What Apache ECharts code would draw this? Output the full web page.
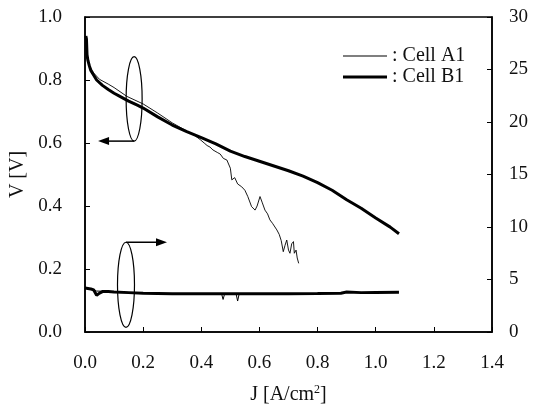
<!DOCTYPE html>
<html><head><meta charset="utf-8">
<script src="https://cdn.jsdelivr.net/npm/echarts@6/dist/echarts.min.js"></script>
<style>html,body{margin:0;padding:0;background:#fff}#c{width:534px;height:408px}</style>
</head><body><div id="c"></div>
<script>
// ---- data ----
const xTicks = [0, 0.2, 0.4, 0.6, 0.8, 1.0, 1.2, 1.4];
const vTicks = [0, 0.2, 0.4, 0.6, 0.8, 1.0];
const rTicks = [0, 5, 10, 15, 20, 25, 30];

const jB1 = [0.003,0.005,0.007,0.010,0.015,0.02,0.03,0.04,0.06,0.08,0.10,0.12,0.15,0.18,0.20,0.25,0.30,0.35,0.40,0.45,0.50,0.55,0.60,0.65,0.70,0.75,0.80,0.85,0.90,0.95,1.00,1.05,1.08];
const vB1 = [0.94,0.93,0.88,0.862,0.845,0.83,0.815,0.80,0.783,0.770,0.758,0.748,0.733,0.72,0.711,0.683,0.657,0.636,0.617,0.597,0.574,0.557,0.542,0.527,0.512,0.495,0.474,0.450,0.420,0.393,0.362,0.333,0.312];

const jA1 = [0.003,0.005,0.007,0.010,0.015,0.02,0.03,0.05,0.08,0.10,0.144,0.20,0.25,0.30,0.35,0.38,0.396,0.41,0.42,0.43,0.44,0.455,0.465,0.476,0.488,0.50,0.505,0.515,0.525,0.539,0.55,0.56,0.573,0.585,0.592,0.602,0.61,0.619,0.628,0.636,0.645,0.66,0.668,0.675,0.682,0.688,0.694,0.70,0.705,0.711,0.717,0.72,0.726,0.73,0.735];
const vA1 = [0.94,0.92,0.885,0.865,0.85,0.838,0.822,0.802,0.787,0.776,0.748,0.724,0.695,0.664,0.638,0.622,0.611,0.600,0.592,0.587,0.578,0.570,0.565,0.551,0.546,0.520,0.483,0.490,0.470,0.461,0.450,0.430,0.398,0.387,0.400,0.430,0.410,0.387,0.375,0.356,0.345,0.324,0.310,0.290,0.255,0.275,0.292,0.260,0.250,0.280,0.287,0.250,0.260,0.235,0.218];

const jB1r = [0,0.01,0.02,0.03,0.04,0.045,0.05,0.06,0.08,0.10,0.15,0.20,0.30,0.40,0.50,0.60,0.70,0.80,0.88,0.90,0.95,1.00,1.08];
const rB1 = [4.2,4.15,4.1,4.0,3.5,3.4,3.7,3.85,3.85,3.82,3.75,3.68,3.65,3.65,3.65,3.65,3.65,3.66,3.7,3.8,3.75,3.77,3.78];

const jA1r = [0,0.02,0.04,0.10,0.20,0.30,0.40,0.47,0.475,0.48,0.52,0.525,0.53,0.60,0.70,0.74];
const rA1 = [4.25,4.1,3.9,3.85,3.68,3.62,3.62,3.62,3.1,3.6,3.6,2.95,3.6,3.62,3.62,3.62];

const seriesNames = ['Cell A1', 'Cell B1'];
// ---- chart ----
const zip = (a, b) => a.map((x, i) => [x, b[i]]);
const FONT = 'Liberation Serif';
const chart = echarts.init(document.getElementById('c'), null, {renderer: 'canvas'});
const axisCommon = {
  axisLine: {show: true, lineStyle: {color: '#000', width: 1.5}},
  axisTick: {show: true, inside: true, length: 5, lineStyle: {color: '#000', width: 1}},
  splitLine: {show: false},
  axisLabel: {color: '#111', fontFamily: FONT, fontSize: 19}
};
chart.setOption({
  animation: false,
  backgroundColor: '#fff',
  grid: {left: 85, right: 42, top: 17, bottom: 76, show: true, borderColor: '#000', borderWidth: 1.5, containLabel: false, outerBoundsMode: 'none'},
  xAxis: Object.assign({}, axisCommon, {
    type: 'value', min: 0, max: 1.4, interval: 0.2,
    name: '{a|J [A/cm}{s|2}{a|]}', nameLocation: 'middle', nameGap: 52,
    nameTextStyle: {rich: {a: {fontFamily: FONT, fontSize: 20, color: '#111'}, s: {fontFamily: FONT, fontSize: 12, color: '#111', verticalAlign: 'top', padding: [0,0,10,0]}}},
    axisLabel: Object.assign({}, axisCommon.axisLabel, {margin: 22, formatter: v => v.toFixed(1)})
  }),
  yAxis: [
    Object.assign({}, axisCommon, {
      type: 'value', min: 0, max: 1.0, interval: 0.2, position: 'left',
      name: 'V [V]', nameLocation: 'middle', nameGap: 57, nameRotate: 90,
      nameTextStyle: {fontFamily: FONT, fontSize: 20, color: '#111'},
      axisLabel: Object.assign({}, axisCommon.axisLabel, {margin: 23, formatter: v => v.toFixed(1)})
    }),
    Object.assign({}, axisCommon, {
      type: 'value', min: 0, max: 30, interval: 5, position: 'right',
      axisLabel: Object.assign({}, axisCommon.axisLabel, {margin: 17})
    })
  ],
  legend: [
    {data: [{name: seriesNames[0], icon: 'rect'}], left: 338, top: 41, itemWidth: 44, itemHeight: 1, itemGap: 0,
     formatter: n => ': ' + n, textStyle: {fontFamily: FONT, fontSize: 20, color: '#111'}, selectedMode: false},
    {data: [{name: seriesNames[1], icon: 'rect'}], left: 338, top: 62, itemWidth: 44, itemHeight: 3, itemGap: 0,
     formatter: n => ': ' + n, textStyle: {fontFamily: FONT, fontSize: 20, color: '#111'}, selectedMode: false}
  ],
  series: [
    {name: seriesNames[0], type: 'line', data: zip(jA1, vA1), showSymbol: false, symbol: 'none', lineStyle: {color: '#000', width: 0.9}, itemStyle: {color: '#000'}, z: 3},
    {name: seriesNames[1], type: 'line', data: zip(jB1, vB1), showSymbol: false, symbol: 'none', lineStyle: {color: '#000', width: 3}, itemStyle: {color: '#000'}, z: 2},
    {name: seriesNames[0], type: 'line', yAxisIndex: 1, data: zip(jA1r, rA1), showSymbol: false, symbol: 'none', lineStyle: {color: '#000', width: 1}, itemStyle: {color: '#000'}, z: 3},
    {name: seriesNames[1], type: 'line', yAxisIndex: 1, data: zip(jB1r, rB1), showSymbol: false, symbol: 'none', lineStyle: {color: '#000', width: 3}, itemStyle: {color: '#000'}, z: 2}
  ]
});

// annotations (ellipses with arrows), positioned through the axes
function px(j, v) { return chart.convertToPixel({xAxisIndex: 0, yAxisIndex: 0}, [j, v]); }
function annot(cj, cv, halfV, rx, arrowToJ, arrowFromTop) {
  const c = px(cj, cv);
  const t = px(cj, cv + halfV);
  const ry = c[1] - t[1];
  const ay = arrowFromTop ? c[1] - ry : c[1] + ry;
  const end = px(arrowToJ, 0)[0];
  const dir = end > c[0] ? 1 : -1;
  return [
    {type: 'ellipse', shape: {cx: c[0], cy: c[1], rx: rx, ry: ry}, style: {fill: 'none', stroke: '#000', lineWidth: 1.2}, z: 10},
    {type: 'line', shape: {x1: c[0], y1: ay, x2: end - dir * 8, y2: ay}, style: {stroke: '#000', lineWidth: 1.5}, z: 10},
    {type: 'polygon', shape: {points: [[end, ay], [end - dir * 11, ay - 4], [end - dir * 11, ay + 4]]}, style: {fill: '#000'}, z: 10}
  ];
}
chart.setOption({graphic: [].concat(
  annot(0.169, 0.74, 0.134, 8, 0.045, false),
  annot(0.141, 0.15, 0.135, 8.5, 0.282, true)
)});
</script></body></html>
